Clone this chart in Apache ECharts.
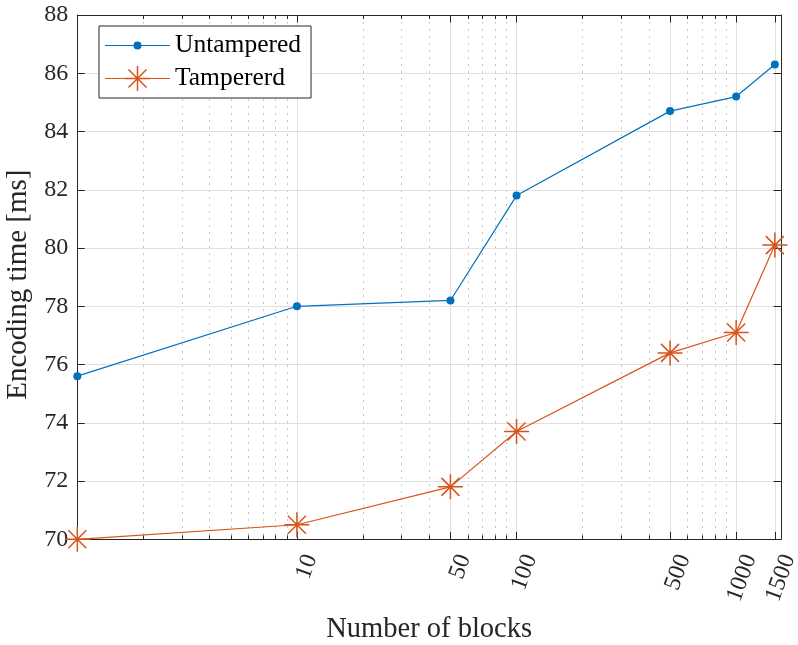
<!DOCTYPE html>
<html>
<head>
<meta charset="utf-8">
<script src="https://cdn.jsdelivr.net/npm/echarts@6/dist/echarts.min.js"></script>
<style>
html,body{margin:0;padding:0;background:#fff;}
#chart{width:798px;height:645px;}
</style>
</head>
<body>
<div id="chart"></div>
<script>
// ---- data ----
const blocks = [1, 10, 50, 100, 500, 1000, 1500];
const untampered = [75.6, 78.0, 78.2, 81.8, 84.7, 85.2, 86.3];
const tampered = [70.0, 70.5, 71.8, 73.7, 76.4, 77.1, 80.1];
const majorTicks = [10, 50, 100, 500, 1000, 1500];
const minorTicks = [2, 3, 4, 5, 6, 7, 8, 9, 20, 30, 40, 60, 70, 80, 90, 200, 300, 400, 600, 700, 800, 900];
const seriesNames = ['Untampered', 'Tampererd'];

// ---- styling ----
const FONT = '"Liberation Serif", "Times New Roman", serif';
const AX = '#262626';
const BLUE = '#0072BD';
const RED = '#D95319';
const STAR = 'M-12.5,-0.75L12.5,-0.75L12.5,0.75L-12.5,0.75Z ' +
  'M-0.75,-12.5L0.75,-12.5L0.75,12.5L-0.75,12.5Z ' +
  'M-9.53,-8.47L-8.47,-9.53L9.53,8.47L8.47,9.53Z ' +
  'M8.47,-9.53L9.53,-8.47L-8.47,9.53L-9.53,8.47Z';
const ICON_U = 'path://M-32.5,-0.6L32.5,-0.6L32.5,0.6L-32.5,0.6Z M4,0A4,4 0 1,1 -4,0A4,4 0 1,1 4,0Z';
const ICON_T = 'path://M-32.5,-0.6L32.5,-0.6L32.5,0.6L-32.5,0.6Z ' + STAR;

const pairs = (ys) => blocks.map((x, i) => [x, ys[i]]);

function xAxisBase(pos, ticks, len) {
  return {
    type: 'log', logBase: 10, min: 1, max: 1600, position: pos, offset: 0,
    gridIndex: 0,
    axisLine: { show: true, onZero: false, lineStyle: { color: AX, width: 1 } },
    axisTick: { show: true, inside: true, length: len, customValues: ticks, lineStyle: { color: AX, width: 1 } },
    axisLabel: { show: false },
    splitLine: { show: false },
    minorTick: { show: false },
    minorSplitLine: { show: false }
  };
}

const xMainBottom = xAxisBase('bottom', majorTicks, 7.5);
xMainBottom.axisLabel = {
  show: true, customValues: majorTicks, rotate: 70, margin: 11,
  fontFamily: FONT, fontSize: 24, color: AX,
  align: 'right', verticalAlign: 'top', lineHeight: 30,
  formatter: (v) => String(Math.round(v))
};
xMainBottom.splitLine = { show: true, lineStyle: { color: '#e0e0e0', width: 1 } };
xMainBottom.name = 'Number of blocks';
xMainBottom.nameLocation = 'middle';
xMainBottom.nameGap = 76;
xMainBottom.nameTextStyle = { fontFamily: FONT, fontSize: 28.5, color: AX };

const xMinorBottom = xAxisBase('bottom', minorTicks, 4);
xMinorBottom.axisLine = { show: false };
xMinorBottom.splitLine = { show: true, lineStyle: { color: '#c8c8c8', width: 1, type: [2, 5] } };

const xMainTop = xAxisBase('top', majorTicks, 7.5);
const xMinorTop = xAxisBase('top', minorTicks, 4);
xMinorTop.axisLine = { show: false };

const option = {
  backgroundColor: '#ffffff',
  animation: false,
  grid: { left: 77.3, top: 15, width: 703.7, height: 524.3, containLabel: false, outerBoundsMode: 'none' },
  legend: {
    orient: 'vertical', left: 99, top: 26,
    padding: [6.5, 10, 6.5, 6],
    itemWidth: 65, itemHeight: 25, itemGap: 7,
    backgroundColor: '#ffffff', borderColor: AX, borderWidth: 1, borderRadius: 0,
    itemStyle: { borderWidth: 0 },
    textStyle: { fontFamily: FONT, fontSize: 25.5, color: '#000', lineHeight: 25 },
    data: [
      { name: seriesNames[0], icon: ICON_U },
      { name: seriesNames[1], icon: ICON_T }
    ]
  },
  xAxis: [xMainBottom, xMinorBottom, xMainTop, xMinorTop],
  yAxis: [
    {
      type: 'value', min: 70, max: 88, interval: 2, position: 'left',
      axisLine: { show: true, onZero: false, lineStyle: { color: AX, width: 1 } },
      axisTick: { show: true, inside: true, length: 7.5, lineStyle: { color: AX } },
      axisLabel: { fontFamily: FONT, fontSize: 24, color: AX, margin: 9 },
      splitLine: { show: true, lineStyle: { color: '#e0e0e0', width: 1 } },
      name: 'Encoding time [ms]', nameLocation: 'middle', nameGap: 44,
      nameTextStyle: { fontFamily: FONT, fontSize: 29, color: AX, padding: [0, 15, 0, 0] }
    },
    {
      type: 'value', min: 70, max: 88, interval: 2, position: 'right',
      axisLine: { show: true, onZero: false, lineStyle: { color: AX, width: 1 } },
      axisTick: { show: true, inside: true, length: 7.5, lineStyle: { color: AX } },
      axisLabel: { show: false },
      splitLine: { show: false }
    }
  ],
  series: [
    {
      name: seriesNames[0], type: 'line', xAxisIndex: 0, yAxisIndex: 0,
      data: pairs(untampered),
      symbol: 'circle', symbolSize: 8,
      itemStyle: { color: BLUE, borderWidth: 0 },
      lineStyle: { color: BLUE, width: 1.2 },
      emphasis: { disabled: true }
    },
    {
      name: seriesNames[1], type: 'line', xAxisIndex: 0, yAxisIndex: 0,
      data: pairs(tampered),
      symbol: 'path://' + STAR, symbolSize: 25,
      itemStyle: { color: RED, borderWidth: 0 },
      lineStyle: { color: RED, width: 1.2 },
      emphasis: { disabled: true }
    }
  ]
};

const chart = echarts.init(document.getElementById('chart'), null, { renderer: 'canvas' });
chart.setOption(option);
</script>
</body>
</html>
